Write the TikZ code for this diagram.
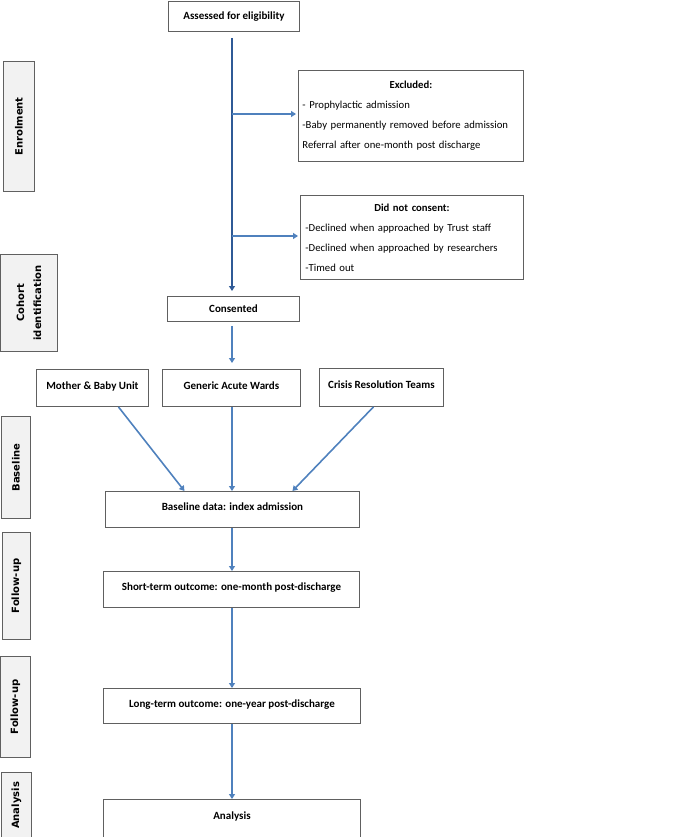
\documentclass[tikz,border=0pt]{standalone}
\usepackage{fontspec}
\setmainfont{Carlito}
\newfontfamily\labfont{DejaVu Sans}
\usetikzlibrary{arrows.meta,calc}
\definecolor{arrblue}{HTML}{4F81BD}
\definecolor{mainblue}{HTML}{2F5A96}
\definecolor{boxgray}{HTML}{606060}
\definecolor{labfill}{HTML}{F2F2F2}
\begin{document}
\begin{tikzpicture}[x=1pt,y=-1pt,
  box/.style={draw=boxgray,line width=0.9pt,anchor=north west,inner sep=0pt,
    font=\fontsize{11}{20}\selectfont\bfseries,align=center,text depth=5pt,text height=7.5pt},
  cbox/.style={draw=boxgray,line width=0.9pt,anchor=north west,inner sep=0pt,
    font=\fontsize{11}{20}\selectfont\bfseries,align=center},
  listbox/.style={draw=boxgray,line width=0.9pt,anchor=north west,inner sep=0pt,
    font=\fontsize{10.7}{20}\selectfont,align=left},
  lab/.style={draw=boxgray,fill=labfill,line width=0.9pt,anchor=north west,inner sep=0pt},
  labtext/.style={rotate=90,align=center,font=\labfont\fontsize{10}{17}\selectfont\bfseries},
  arr/.style={draw=arrblue,line width=1.6pt,-{Triangle[length=5pt,width=6pt]}},
  mainarr/.style={draw=mainblue,line width=1.8pt,-{Triangle[length=5pt,width=6pt]}}
]
\useasboundingbox (0,0) rectangle (674,837);

% left stage labels
\node[lab,minimum width=31pt,minimum height=130pt] (lenrol) at (3,61) {};
\node[labtext] (tenrol) at (lenrol.center) {Enrolment};
\node[lab,minimum width=57pt,minimum height=97pt] (lcohort) at (0,254) {};
\node[labtext] (tcohort) at (lcohort.center) {Cohort\\identification};
\node[lab,minimum width=29pt,minimum height=102pt] (lbase) at (1,416) {};
\node[labtext] (tbase) at (lbase.center) {Baseline};
\node[lab,minimum width=28pt,minimum height=107pt] (lfol1) at (2,532) {};
\node[labtext] (tfol1) at (lfol1.center) {Follow-up};
\node[lab,minimum width=30pt,minimum height=101pt] (lfol2) at (0,656) {};
\node[labtext] (tfol2) at (lfol2.center) {Follow-up};
\node[lab,minimum width=30pt,minimum height=66pt] (lana) at (1,772) {};
\node[labtext] (tana) at (lana.center) {Analysis};

% main boxes
\node[cbox,minimum width=131pt,minimum height=30pt] (assess) at (168,1) {Assessed for eligibility};
\node[listbox,minimum width=225pt,minimum height=91pt,text width=217pt,inner xsep=4pt] (excl) at (298,70)
 {\makebox[\linewidth]{\bfseries Excluded:}\\
  - Prophylactic admission\\
  -Baby permanently removed before admission\\
  Referral after one-month post discharge};
\node[listbox,minimum width=223pt,minimum height=84pt,text width=213pt,inner xsep=5pt] (decl) at (300,195)
 {\makebox[\linewidth]{\bfseries Did not consent:}\\
  -Declined when approached by Trust staff\\
  -Declined when approached by researchers\\
  -Timed out};
\node[cbox,minimum width=132pt,minimum height=25pt] (cons) at (167,296) {Consented};
\node[box,minimum width=112pt,minimum height=37pt] (mbu) at (36,369) {Mother \& Baby Unit};
\node[box,minimum width=138pt,minimum height=37pt] (gaw) at (162,369) {Generic Acute Wards};
\node[box,minimum width=124pt,minimum height=38pt] (crt) at (319,368) {Crisis Resolution Teams};
\node[box,minimum width=254pt,minimum height=36pt] (base) at (105,491) {Baseline data: index admission};
\node[box,minimum width=256pt,minimum height=36pt] (short) at (103,571) {Short-term outcome: one-month post-discharge};
\node[box,minimum width=257pt,minimum height=35pt] (long) at (103,688) {Long-term outcome: one-year post-discharge};
\node[box,minimum width=257pt,minimum height=38pt] (ana) at (103,799) {Analysis};

% connectors
\draw[mainarr,shorten <=6pt,shorten >=5pt] (assess.south -| 232,0) -- (cons.north -| 232,0);
\coordinate (b1) at (232,114);
\coordinate (b2) at (232,236);
\draw[arr,shorten >=2pt] (b1) -- (b1 -| excl.west);
\draw[arr,shorten >=2pt] (b2) -- (b2 -| decl.west);
\draw[arr,shorten <=4pt,shorten >=6pt] (cons.south -| 232,0) -- (gaw.north -| 232,0);
\draw[arr] ([xshift=26pt]mbu.south) -- ([xshift=-48pt]base.north);
\draw[arr] (gaw.south -| 232,0) -- (base.north -| 232,0);
\draw[arr] ([xshift=-8pt]crt.south) -- ([xshift=60pt]base.north);
\draw[arr] (base.south -| 232,0) -- (short.north -| 232,0);
\draw[arr] (short.south -| 232,0) -- (long.north -| 232,0);
\draw[arr] (long.south -| 232,0) -- (ana.north -| 232,0);
\end{tikzpicture}
\end{document}
